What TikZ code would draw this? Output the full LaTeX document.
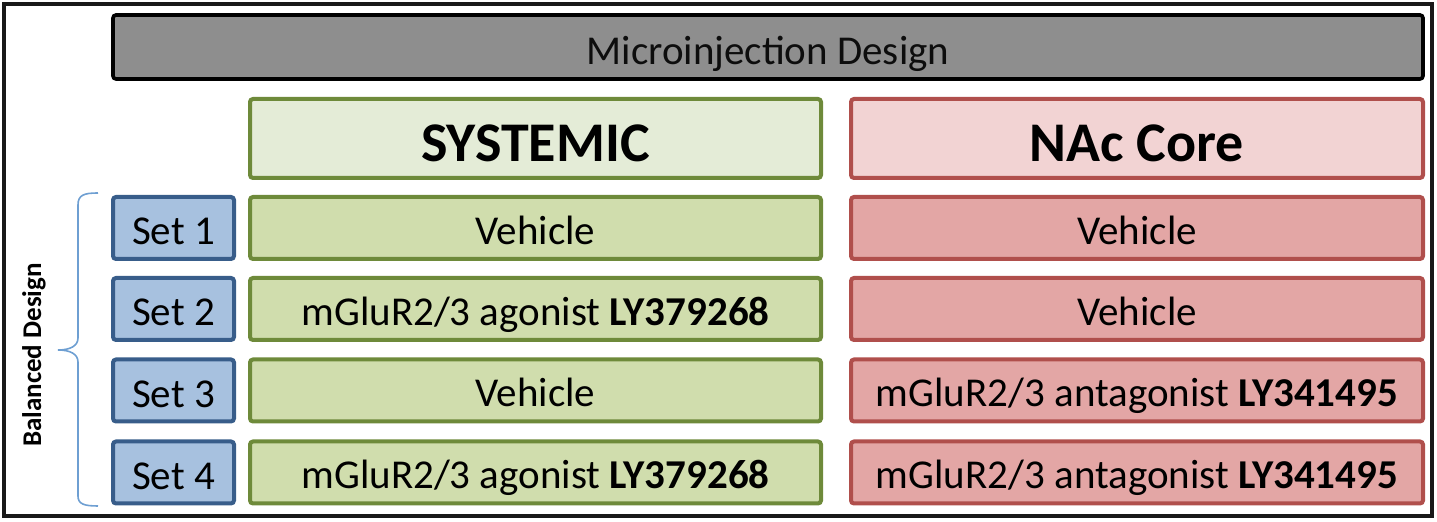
\documentclass[tikz,border=0pt]{standalone}
\usepackage{fontspec}
\setmainfont{Carlito}
\definecolor{grayfill}{HTML}{8E8E8E}
\definecolor{greenline}{HTML}{6E8A3A}
\definecolor{greenhead}{HTML}{E4ECD7}
\definecolor{greencell}{HTML}{D0DDAD}
\definecolor{redline}{HTML}{B04F4C}
\definecolor{redhead}{HTML}{F2D3D3}
\definecolor{redcell}{HTML}{E3A6A5}
\definecolor{blueline}{HTML}{385D8A}
\definecolor{bluefill}{HTML}{A7C1DF}
\definecolor{bracecol}{HTML}{6E9FD2}
\tikzset{
  box/.style={draw, line width=2pt, rounded corners=1.5pt, inner sep=0pt, align=center,
    font=\fontsize{20.5}{24}\selectfont, text height=16.2pt, text depth=0pt},
  graybox/.style={box, fill=grayfill, draw=black, line width=1.8pt, text=black!95, minimum width=655pt, minimum height=32pt, text height=17.2pt},
  sethead/.style={box, minimum width=285.5pt, minimum height=39.5pt, font=\fontsize{28}{32}\selectfont\bfseries, text height=23pt},
  greenhd/.style={sethead, fill=greenhead, draw=greenline},
  redhd/.style={sethead, fill=redhead, draw=redline, minimum width=286pt},
  setbox/.style={box, fill=bluefill, draw=blueline, minimum width=60.5pt, minimum height=31pt, text height=17pt},
  greenbox/.style={box, fill=greencell, draw=greenline, minimum width=285.5pt, minimum height=31pt},
  redbox/.style={box, fill=redcell, draw=redline, minimum width=286pt, minimum height=31pt},
}
\begin{document}
\begin{tikzpicture}[x=0.5pt,y=-0.5pt]
\useasboundingbox (0,0) rectangle (1437,522);
\draw[line width=2pt, black!90] (4,4) rectangle (1432,516);
\node[graybox] (title) at (768,47) {Microinjection Design};
\node[greenhd] (sys) at (535.5,138.5) {SYSTEMIC};
\node[redhd] (nac) at (1137,138.5) {NAc Core};
\node[setbox] (s1) at (173.5,228) {Set 1};
\node[setbox] (s2) at (173.5,309) {Set 2};
\node[setbox] (s3) at (173.5,390.5) {Set 3};
\node[setbox] (s4) at (173.5,472.5) {Set 4};
\node[greenbox] (g1) at (535.5,228) {Vehicle};
\node[greenbox] (g2) at (535.5,309) {mGluR2/3 agonist \textbf{LY379268}};
\node[greenbox] (g3) at (535.5,390.5) {Vehicle};
\node[greenbox] (g4) at (535.5,472.5) {mGluR2/3 agonist \textbf{LY379268}};
\node[redbox] (r1) at (1137,228) {Vehicle};
\node[redbox] (r2) at (1137,309) {Vehicle};
\node[redbox] (r3) at (1137,390.5) {mGluR2/3 antagonist \textbf{LY341495}};
\node[redbox] (r4) at (1137,472.5) {mGluR2/3 antagonist \textbf{LY341495}};
\draw[bracecol, line width=0.8pt] (98,193) .. controls (84,193) and (78,195) .. (78,205)
  -- (78,338) .. controls (78,346) and (70,350) .. (58,350)
  .. controls (70,350) and (78,354) .. (78,362)
  -- (78,496) .. controls (78,504) and (84,506) .. (98,506);
\node[rotate=90, font=\fontsize{13.5}{16}\selectfont\bfseries] (bal) at (34,355) {Balanced Design};
\end{tikzpicture}
\end{document}
